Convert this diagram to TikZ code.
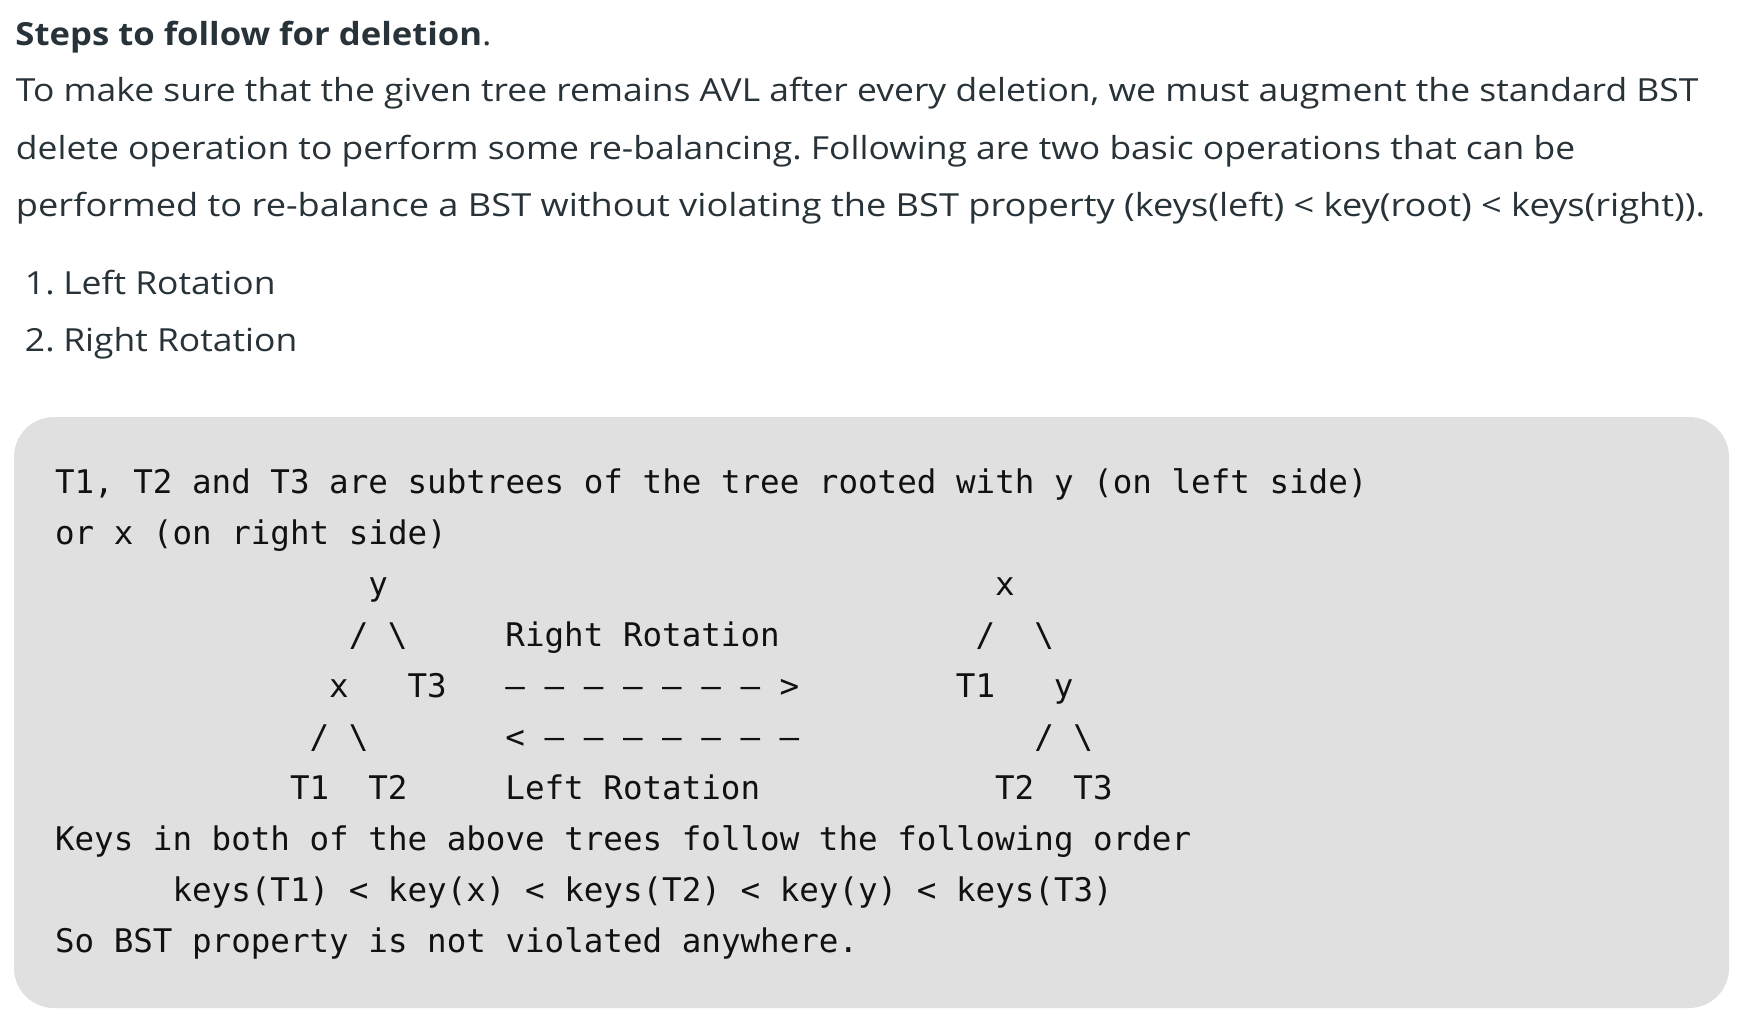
\documentclass[tikz,border=0pt]{standalone}
\usepackage{fontspec}
\setmonofont{DejaVu Sans Mono}
\newfontfamily\bodyfont[FakeStretch=1.115,BoldFeatures={FakeStretch=1.09}]{Open Sans}
\newfontfamily\bodywidefont[FakeStretch=1.138]{Open Sans}
\definecolor{bodytext}{HTML}{273239}
\definecolor{codebg}{HTML}{E0E0E0}
\definecolor{codetext}{HTML}{111111}
\tikzset{
  body/.style={anchor=base west, inner sep=0pt, outer sep=0pt, text=bodytext,
    font=\bodyfont\fontsize{15.9pt}{19pt}\selectfont\frenchspacing},
  bodywide/.style={body, font=\bodywidefont\fontsize{15.9pt}{19pt}\selectfont\frenchspacing},
  code/.style={anchor=base west, inner sep=0pt, outer sep=0pt, text=codetext,
    font=\ttfamily\fontsize{16.27pt}{19pt}\selectfont\frenchspacing},
}
\begin{document}
\begin{tikzpicture}[x=0.5pt,y=-0.5pt]
\useasboundingbox[fill=white] (0,0) rectangle (1738,1030);
% text above the code block
\node[body] (head) at (15.5,45) {\textbf{Steps to follow for deletion}.};
\node[body] (p1) at (16,101.7) {To make sure that the given tree remains AVL after every deletion, we must augment the standard BST};
\node[body] (p2) at (16,159.2) {delete operation to perform some re-balancing. Following are two basic operations that can be};
\node[bodywide] (p3) at (16,216.7) {performed to re-balance a BST without violating the BST property (keys(left) < key(root) < keys(right)).};
\node[body] (n1) at (25,294.3) {1.};
\node[body] (i1) at (63.3,294.3) {Left Rotation};
\node[body] (n2) at (25,351.7) {2.};
\node[body] (i2) at (63.3,351.7) {Right Rotation};
% code block
\fill[codebg, rounded corners=20] (14,417) rectangle (1729,1008);
\node[code] (c0) at (55,493.3) {T1, T2 and T3 are subtrees of the tree rooted with y (on left side)};
\node[code] (c1) at (55,544.3) {or x (on right side)};
% left tree
\node[code] (ly)   at (368.36,595.3) {y};
\node[code] (lys1) at (348.78,646.3) {/};
\node[code] (lys2) at (387.94,646.3) {\textbackslash};
\node[code] (lx)   at (329.19,697.3) {x};
\node[code] (lt3)  at (407.53,697.3) {T3};
\node[code] (lxs1) at (309.61,748.3) {/};
\node[code] (lxs2) at (348.78,748.3) {\textbackslash};
\node[code] (lt1)  at (290.02,799.3) {T1};
\node[code] (lt2)  at (368.36,799.3) {T2};
% middle labels
\node[code] (rr)   at (505.46,646.3) {Right Rotation};
\node[code] (ra)   at (505.46,697.3) {– – – – – – – >};
\node[code] (la)   at (505.46,748.3) {< – – – – – – –};
\node[code] (lr)   at (505.46,799.3) {Left Rotation};
% right tree
\node[code] (rx)   at (995.08,595.3) {x};
\node[code] (rxs1) at (975.50,646.3) {/};
\node[code] (rxs2) at (1034.25,646.3) {\textbackslash};
\node[code] (rt1)  at (955.91,697.3) {T1};
\node[code] (ry)   at (1053.84,697.3) {y};
\node[code] (rys1) at (1034.25,748.3) {/};
\node[code] (rys2) at (1073.42,748.3) {\textbackslash};
\node[code] (rt2)  at (995.08,799.3) {T2};
\node[code] (rt3)  at (1073.42,799.3) {T3};
% closing lines
\node[code] (c7) at (55,850.3) {Keys in both of the above trees follow the following order};
\node[code] (c8) at (172.51,901.3) {keys(T1) < key(x) < keys(T2) < key(y) < keys(T3)};
\node[code] (c9) at (55,952.3) {So BST property is not violated anywhere.};
\end{tikzpicture}
\end{document}
